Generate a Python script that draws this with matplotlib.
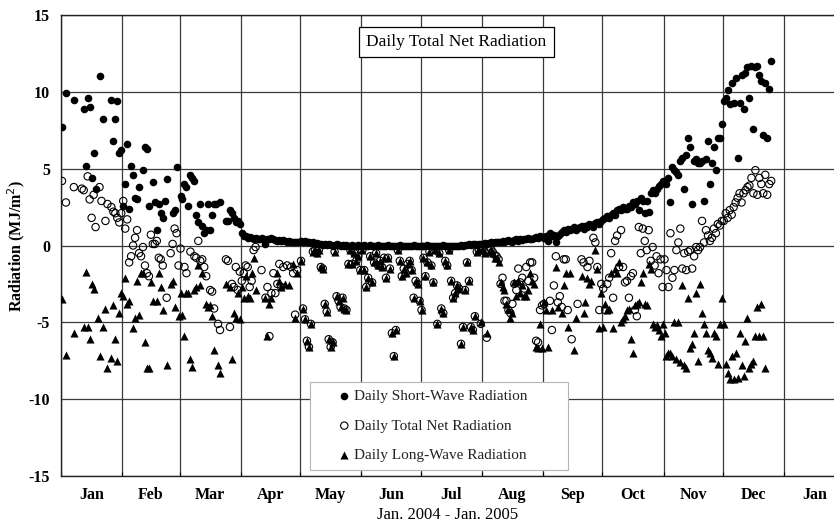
import numpy as np
import matplotlib
matplotlib.use("Agg")
import matplotlib.pyplot as plt

plt.rcParams['font.family'] = ['Liberation Serif', 'DejaVu Serif']
plt.rcParams['axes.unicode_minus'] = False

# month boundaries (day of year 2004, leap year) and tick labels
month_start = [0, 31, 60, 91, 121, 152, 182, 213, 244, 274, 305, 335, 366]
month_labels = ['Jan', 'Feb', 'Mar', 'Apr', 'May', 'Jun', 'Jul', 'Aug',
                'Sep', 'Oct', 'Nov', 'Dec', 'Jan']

# ---------------- short-wave radiation (MJ/m2) ----------------
# Jan - Mar, scattered days
sw_day = [1, 3, 7, 12, 13, 14, 15, 16, 17, 18, 20, 22, 26, 27, 28, 29, 30, 31,
          32, 33, 34, 35, 36, 37, 38, 39, 40, 42, 43, 44, 45, 47, 48, 49, 50, 51, 52, 53, 54, 57, 58, 59,
          61, 62, 63, 64, 65, 66, 67, 68, 69, 70, 71, 72, 73, 74, 75, 76, 77, 78, 79, 81, 84, 85, 86, 87,
          88, 89, 90, 91]
sw_val = [7.7, 9.9, 9.5, 8.9, 5.2, 9.6, 9.0, 4.4, 6.0, 3.7, 11.0, 8.2, 9.5, 6.8, 8.2, 9.4, 6.0, 6.2,
          2.6, 4.0, 6.6, 2.4, 5.2, 4.6, 3.1, 3.0, 3.8, 4.9, 6.4, 6.3, 2.6, 4.1, 2.8, 1.0, 2.7, 2.1, 1.8, 2.9, 4.3, 2.1, 2.3, 5.1,
          3.2, 3.0, 4.0, 3.8, 2.6, 4.6, 4.4, 4.2, 2.0, 1.5, 2.7, 1.3, 0.8, 1.0, 2.7, 1.0, 2.0, 2.7, 2.7, 2.8, 1.6, 1.6, 2.3, 2.1,
          1.8, 1.5, 1.6, 1.4]
# one value per day from 1 Apr
sw_apr = [0.8, 0.65, 0.6, 0.5, 0.55, 0.5, 0.45, 0.5, 0.4, 0.45, 0.5, 0.4, 0.1, 0.4, 0.45,
          0.5, 0.4, 0.35, 0.3, 0.35, 0.3, 0.35, 0.3, 0.25, 0.3, 0.2, 0.25, 0.2, 0.25, 0.2]
sw_may = [0.3, 0.25, 0.3, 0.2, 0.25, 0.15, 0.2, 0.1, 0.15, 0.1, 0.1, 0.05, 0.1, 0.05, 0.1, 0.05,
          0.0, 0.05, 0.1, 0.05, 0.0, 0.05, 0.0, 0.05, 0.0, 0.0, 0.05, 0.0, 0.0, 0.05, 0.0]
sw_jun = [0.0, 0.05, 0.0, 0.0, 0.05, 0.0, 0.0, 0.0, 0.05, 0.0,
          0.0, 0.0, 0.0, 0.05, 0.0, 0.0, 0.0, 0.0, 0.0, 0.05,
          0.0, 0.0, 0.0, 0.0, 0.0, 0.0, 0.05, 0.0, 0.0, 0.0]
sw_jul = [0.0, 0.0, 0.0, 0.05, 0.0, 0.0, 0.0, 0.0, 0.0, 0.0,
          0.0, 0.05, 0.0, 0.0, 0.0, 0.0, 0.0, 0.0, 0.0, 0.0,
          0.05, 0.0, 0.05, 0.05, 0.1, 0.05, 0.1, 0.1, 0.05, 0.1, 0.1]
sw_aug = [0.1, 0.15, 0.1, 0.15, 0.2, 0.15, 0.2, 0.25, 0.2, 0.25, 0.3, 0.25, 0.3, 0.35, 0.3, 0.25,
          0.35, 0.4, 0.3, 0.4, 0.35, 0.45, 0.4, 0.5, 0.45, 0.4, 0.5, 0.55, 0.5, 0.6, 0.55]
sw_sep = [0.5, 0.65, 0.3, 0.8, 0.6, 0.7, 0.2, 0.65, 0.75, 0.9, 1.0, 0.85, 1.1, 1.0, 1.1,
          1.2, 1.0, 1.15, 1.2, 1.25, 1.1, 1.3, 1.2, 1.4, 1.35, 1.2, 1.45, 1.5, 1.4, 1.6]
sw_oct = [1.7, 1.8, 1.9, 1.8, 2.0, 2.1, 2.0, 2.3, 2.4, 2.3, 2.5, 2.4, 2.4, 2.6, 2.5, 2.8,
          2.7, 2.9, 2.3, 3.1, 2.9, 2.1, 2.9, 2.2, 3.4, 3.6, 3.4, 3.7, 3.9, 4.0, 4.2]
sw_nov = [4.2, 4.0, 4.4, 2.8, 5.1, 4.9, 4.8, 4.6, 5.5, 5.7, 3.7, 5.9, 7.0, 6.4, 2.7,
          5.5, 5.6, 5.4, 5.4, 5.5, 2.9, 5.6, 6.8, 4.0, 5.4, 6.4, 4.9, 7.0, 7.0, 7.9]
sw_dec = [9.4, 9.6, 10.1, 9.2, 10.6, 9.3, 10.9, 5.7, 9.3, 11.1, 8.9, 11.2, 11.6,
          9.6, 11.7, 7.6, 11.6, 11.7, 11.1, 10.7, 7.2, 10.6, 7.0, 10.2, 12.0]

# ---------------- total net radiation ----------------
net_day = [1, 3, 7, 11, 12, 14, 15, 16, 17, 18, 20, 21, 23, 24, 26, 27, 28, 29, 30, 31,
           32, 33, 34, 35, 36, 37, 38, 39, 40, 41, 42, 43, 44, 45, 46, 47, 48, 49, 50, 51, 52, 54, 56, 57, 58, 59, 60,
           61, 63, 64, 66, 68, 69, 70, 71, 72, 73, 74, 76, 77, 78, 80, 81, 84, 85, 86, 87, 88, 89, 90, 91,
           92, 93, 94, 95, 96, 97, 98, 99, 102, 104, 105, 106, 107, 108, 109, 110, 111, 112, 113, 115, 117, 118, 119, 120]
net_val = [4.2, 2.8, 3.8, 3.7, 3.6, 4.5, 3.0, 1.8, 3.3, 1.2, 3.8, 2.9, 1.6, 2.7, 2.5, 2.2, 2.1, 1.8, 1.5, 2.1,
           2.9, 1.1, 1.7, -1.1, -0.7, 0.0, 0.5, 1.0, -0.5, -0.7, -0.1, -1.3, -1.8, -2.0, 0.7, 0.1, 0.1, 0.3, -0.8, -0.9, -1.3, -3.4, -0.5, 0.1, 1.1, 0.8, -1.3,
           -0.2, -1.4, -1.8, -0.4, -0.7, -0.8, 0.3, -1.0, -0.9, -1.4, -2.0, -2.9, -3.0, -4.1, -5.1, -5.5, -0.9, -1.0, -5.3, -2.5, -2.7, -1.4, -2.9, -1.7,
           -2.3, -1.8, -1.3, -1.4, -2.7, -2.3, -0.3, -0.1, -1.6, -3.4, -2.7, -5.9, -3.1, -1.8, -3.1, -2.5, -1.2, -2.7, -1.4, -1.3, -1.4, -1.8, -4.5, -1.6]
net_may = [-1.0, -4.1, -4.8, -6.2, -6.6, -5.1, -0.4, -0.3, -0.5, -0.3, -1.4, -1.5, -3.8, -4.3, -6.1, -6.6,
           -6.3, -0.4, -3.3, -3.6, -4.0, -3.4, -4.1, -4.2, -1.2, -0.3, -1.2, -0.5, -1.0, -0.7, -1.6]
net_jun = [-0.3, -1.6, -2.7, -2.1, -0.7, -2.4, -1.1, -0.5, -1.3, -1.0, -1.4, -0.8, -2.1, -0.8, -1.5,
           -5.7, -7.2, -5.5, -0.3, -1.0, -2.0, -1.5, -1.8, -1.2, -1.0, -1.6, -3.4, -2.3, -2.5, -3.6]
net_jul = [-4.2, -0.8, -2.0, -1.1, -0.4, -1.3, -2.4, -0.3, -5.1, -0.5, -4.1, -4.4, -1.0, -1.3, -0.3, -2.3,
           -3.4, -3.1, -2.6, -2.8, -6.4, -5.3, -2.9, -1.1, -2.3, -5.3, -5.5, -4.6, -0.4, -0.3, -5.1]
net_aug = [-0.2, -0.4, -6.0, -0.3, -0.2, -0.4, -0.6, -0.7, -0.9, -2.5, -2.1, -3.6, -3.6, -4.2, -4.4, -3.8,
           -2.5, -2.9, -1.5, -2.4, -2.1, -2.8, -1.4, -2.3, -1.1, -1.1, -2.1, -6.2, -6.3, -4.2, -3.9]
net_sep_day = [245, 248, 249, 250, 251, 252, 253, 254, 255, 256, 257, 259, 262, 264, 265, 267, 268,
               270, 271, 272, 273, 274]
net_sep = [-3.8, -3.6, -5.5, -2.6, -0.7, -3.7, -3.3, -4.0, -0.9, -0.9, -4.2, -6.1, -3.8, -0.9, -1.1, -1.4, -1.0,
           0.5, 0.2, -1.4, -4.2, -2.5]
net_oct = [-2.8, -4.2, -2.5, -2.1, -0.5, -3.4, 0.3, 0.65, -1.4, 1.0, -1.4, -2.4, -2.3, -3.4, -2.0, -1.8,
           -4.2, -4.6, 1.2, -0.5, 1.1, 0.3, -0.3, 1.0, -1.0, -0.1, -1.3, -0.7, -1.8, -0.9, -2.7]
net_nov = [-0.9, -1.6, -2.7, 0.8, -2.1, -1.6, -0.3, 0.2, 1.1, -1.5, -0.5, -1.6, -0.4, -0.3, -1.5,
           -0.7, -0.1, -0.3, -0.1, 1.6, 0.2, 1.0, 0.65, 0.3, 0.5, 1.1, 0.8, 1.4, 1.3, 1.6]
net_dec = [1.6, 2.1, 1.8, 2.3, 2.0, 2.5, 2.8, 3.1, 3.4, 2.8, 3.4, 3.6, 3.8, 3.9, 4.4, 3.4, 4.9,
           3.3, 4.4, 4.0, 3.4, 4.6, 3.3, 4.0, 4.2]

# ---------------- long-wave radiation ----------------
lw_day = [1, 3, 7, 12, 13, 14, 15, 16, 17, 19, 20, 22, 23, 24, 26, 27, 28, 29, 30, 31,
          32, 33, 34, 35, 37, 38, 39, 40, 41, 42, 43, 44, 45, 46, 47, 49, 50, 51, 52, 54, 56, 57, 58, 60,
          61, 62, 63, 64, 65, 66, 67, 68, 69, 70, 71, 72, 74, 75, 76, 77, 78, 80, 81, 84, 86, 87, 88, 89, 90, 91,
          92, 93, 94, 95, 96, 97, 98, 99, 104, 105, 106, 107, 110, 111, 112, 114, 116, 118, 119, 120]
lw_val = [-3.5, -7.1, -5.7, -5.3, -1.7, -5.3, -6.1, -2.5, -2.8, -4.7, -7.2, -5.3, -4.1, -8.0, -7.3, -3.9, -6.1, -7.5, -4.4, -3.1,
          -3.3, -2.1, -3.8, -3.6, -5.4, -4.7, -2.3, -4.5, -1.8, -1.8, -6.3, -8.0, -8.0, -2.4, -3.6, -3.6, -1.8, -2.7, -4.2, -7.8, -2.5, -2.3, -4.0, -4.6,
          -3.1, -4.5, -5.9, -3.1, -3.1, -7.4, -7.9, -2.9, -2.7, -1.3, -2.6, -1.8, -3.8, -4.0, -3.9, -4.6, -6.8, -7.8, -8.3, -2.5, -2.7, -7.4, -4.4, -4.7, -3.1, -4.8,
          -2.7, -3.4, -2.0, -3.3, -3.4, -1.8, -0.8, -2.9, -3.4, -5.9, -3.8, -3.4, -1.8, -2.3, -2.7, -2.5, -2.6, -1.2, -4.7, -1.8]
lw_may = [-1.0, -4.1, -4.8, -6.2, -6.6, -5.1, -0.4, -0.3, -0.5, -0.3, -1.4, -1.5, -3.8, -4.3, -6.1, -6.6,
          -6.3, -0.4, -3.3, -3.6, -4.0, -3.4, -4.1, -4.2, -1.2, -0.3, -1.2, -0.5, -1.0, -0.7, -1.6]
lw_jun = [-0.3, -1.6, -2.7, -2.1, -0.7, -2.4, -1.1, -0.5, -1.3, -1.0, -1.4, -0.8, -2.1, -0.8, -1.5,
          -5.7, -7.2, -5.5, -0.3, -1.0, -2.0, -1.5, -1.8, -1.2, -1.0, -1.6, -3.4, -2.3, -2.5, -3.6]
lw_jul = [-4.2, -0.8, -2.0, -1.1, -0.4, -1.3, -2.4, -0.3, -5.1, -0.5, -4.1, -4.4, -1.0, -1.3, -0.3, -2.3,
          -3.4, -3.1, -2.6, -2.8, -6.4, -5.3, -2.9, -1.1, -2.3, -5.3, -5.5, -4.6, -0.4, -0.3, -5.0]
lw_aug = [-0.3, -0.5, -5.7, -0.4, -0.3, -0.5, -0.8, -0.8, -1.1, -2.4, -2.7, -2.9, -3.8, -4.1, -4.7, -4.4,
          -2.4, -3.3, -2.3, -3.1, -2.6, -3.3, -3.3, -2.9, -1.8, -2.3, -2.5, -6.6, -6.7, -5.1, -6.7]
lw_sep_day = [245, 246, 247, 249, 251, 252, 254, 255, 256, 257, 258, 260, 261, 264, 265, 266, 267,
              268, 269, 271, 272, 273, 274]
lw_sep = [-3.7, -4.2, -6.6, -4.2, -1.4, -4.0, -4.4, -2.6, -1.8, -5.3, -1.8, -6.8, -4.7, -2.0, -4.4, -3.7, -2.1,
          -2.5, -2.3, -0.3, -1.5, -5.4, -3.1]
lw_oct = [-5.3, -3.8, -4.2, -4.1, -1.8, -5.4, -1.5, -1.8, -1.1, -5.0, -4.8, -4.6, -4.2, -4.1, -6.1,
          -7.0, -3.9, -3.8, -3.7, -2.4, -1.8, -3.8, -3.9, -1.2, -1.5, -5.1, -5.3, -5.2, -5.5, -5.9]
lw_nov = [-5.1, -5.7, -7.2, -7.0, -7.0, -7.2, -5.0, -7.4, -5.0, -7.6, -2.6, -7.8, -8.0, -3.4, -6.7,
          -6.4, -5.7, -3.1, -7.5, -2.5, -4.4, -5.1, -5.7, -6.8, -7.0, -7.3, -5.7, -5.9, -7.7, -5.1]
lw_dec = [-3.4, -5.1, -7.7, -8.3, -8.7, -7.2, -8.7, -7.0, -8.6, -5.7, -7.8, -8.5, -6.2, -4.7,
          -8.0, -7.7, -7.5, -5.9, -4.0, -5.9, -3.8, -5.9, -8.0]

# assemble the full-year series
sw_daily = sw_apr + sw_may + sw_jun + sw_jul + sw_aug + sw_sep + sw_oct + sw_nov + sw_dec
sw_x = sw_day + list(range(92, 92 + len(sw_daily)))
sw_y = sw_val + sw_daily

net_summer = net_may + net_jun + net_jul + net_aug
net_late = net_oct + net_nov + net_dec
net_x = net_day + list(range(122, 122 + len(net_summer))) + net_sep_day + list(range(275, 275 + len(net_late)))
net_y = net_val + net_summer + net_sep + net_late

lw_summer = lw_may + lw_jun + lw_jul + lw_aug
lw_late = lw_oct + lw_nov + lw_dec
lw_x = lw_day + list(range(122, 122 + len(lw_summer))) + lw_sep_day + list(range(275, 275 + len(lw_late)))
lw_y = lw_val + lw_summer + lw_sep + lw_late

assert len(sw_x) == len(sw_y) and len(net_x) == len(net_y) and len(lw_x) == len(lw_y)

fig = plt.figure(figsize=(8.34, 5.25), dpi=100)
ax = fig.add_axes([61 / 834, 49 / 525, 773 / 834, 461 / 525])

# markers sit in the middle of their day
ax.scatter(np.array(sw_x) - 0.5, sw_y, s=30, marker='o', color='black', linewidths=0,
           label='Daily Short-Wave Radiation', zorder=3)
ax.scatter(np.array(lw_x) - 0.5, lw_y, s=34, marker='^', color='black', linewidths=0,
           label='Daily Long-Wave Radiation', zorder=3)
ax.scatter(np.array(net_x) - 0.5, net_y, s=28, marker='o', facecolors='none', edgecolors='black',
           linewidths=0.8, label='Daily Total Net Radiation', zorder=4)

ax.set_xlim(0, 391.3)
ax.set_ylim(-15, 15)

ax.set_xticks(month_start)
ax.set_xticklabels([])
centers = [(a + b) / 2 for a, b in zip(month_start, month_start[1:] + [397])]
ax.set_xticks(centers, minor=True)
ax.set_xticklabels(month_labels, minor=True, fontsize=11.5, fontweight='bold')
ax.tick_params(axis='x', which='minor', length=0, pad=8)
ax.tick_params(axis='x', which='major', length=3, direction='in')

ax.set_yticks([-15, -10, -5, 0, 5, 10, 15])
ax.set_yticklabels(['-15', '-10', '-5', '0', '5', '10', '15'], fontsize=11.5, fontweight='bold')
ax.tick_params(axis='y', length=0, pad=8)

ax.grid(True, which='major', color='#3a3a3a', linewidth=0.9, zorder=1)
ax.set_axisbelow(True)
for side in ['left', 'top', 'bottom']:
    ax.spines[side].set_color('#222222')
    ax.spines[side].set_linewidth(1.0)
ax.spines['right'].set_visible(False)

ax.set_ylabel('Radiation (MJ/m$^2$)', fontsize=11.5, fontweight='bold')
ax.yaxis.set_label_coords(-0.044, 0.5)
ax.set_xlabel('Jan. 2004 - Jan. 2005', fontsize=12)
ax.xaxis.set_label_coords(0.5, -0.068)

ax.text(0.5116, 0.9414, 'Daily Total Net Radiation', transform=ax.transAxes,
        ha='center', va='center', fontsize=12.5, zorder=6,
        bbox=dict(boxstyle='square,pad=0.42', facecolor='white', edgecolor='black', linewidth=0.9))

handles, labels = ax.get_legend_handles_labels()
order = [0, 2, 1]
leg = ax.legend([handles[i] for i in order], [labels[i] for i in order],
                loc='lower left', bbox_to_anchor=(0.322, 0.013, 0.334, 0.2), mode='expand',
                borderaxespad=0, fontsize=11, scatterpoints=1, fancybox=False,
                borderpad=0.5, labelspacing=1.05, handlelength=3.5, handletextpad=-1.1,
                framealpha=1, edgecolor='#b5b5b5')
leg.set_zorder(7)
leg.get_frame().set_linewidth(0.8)
for t in leg.get_texts():
    t.set_color('#222222')

fig.savefig('out.png', dpi=100, facecolor='white')
